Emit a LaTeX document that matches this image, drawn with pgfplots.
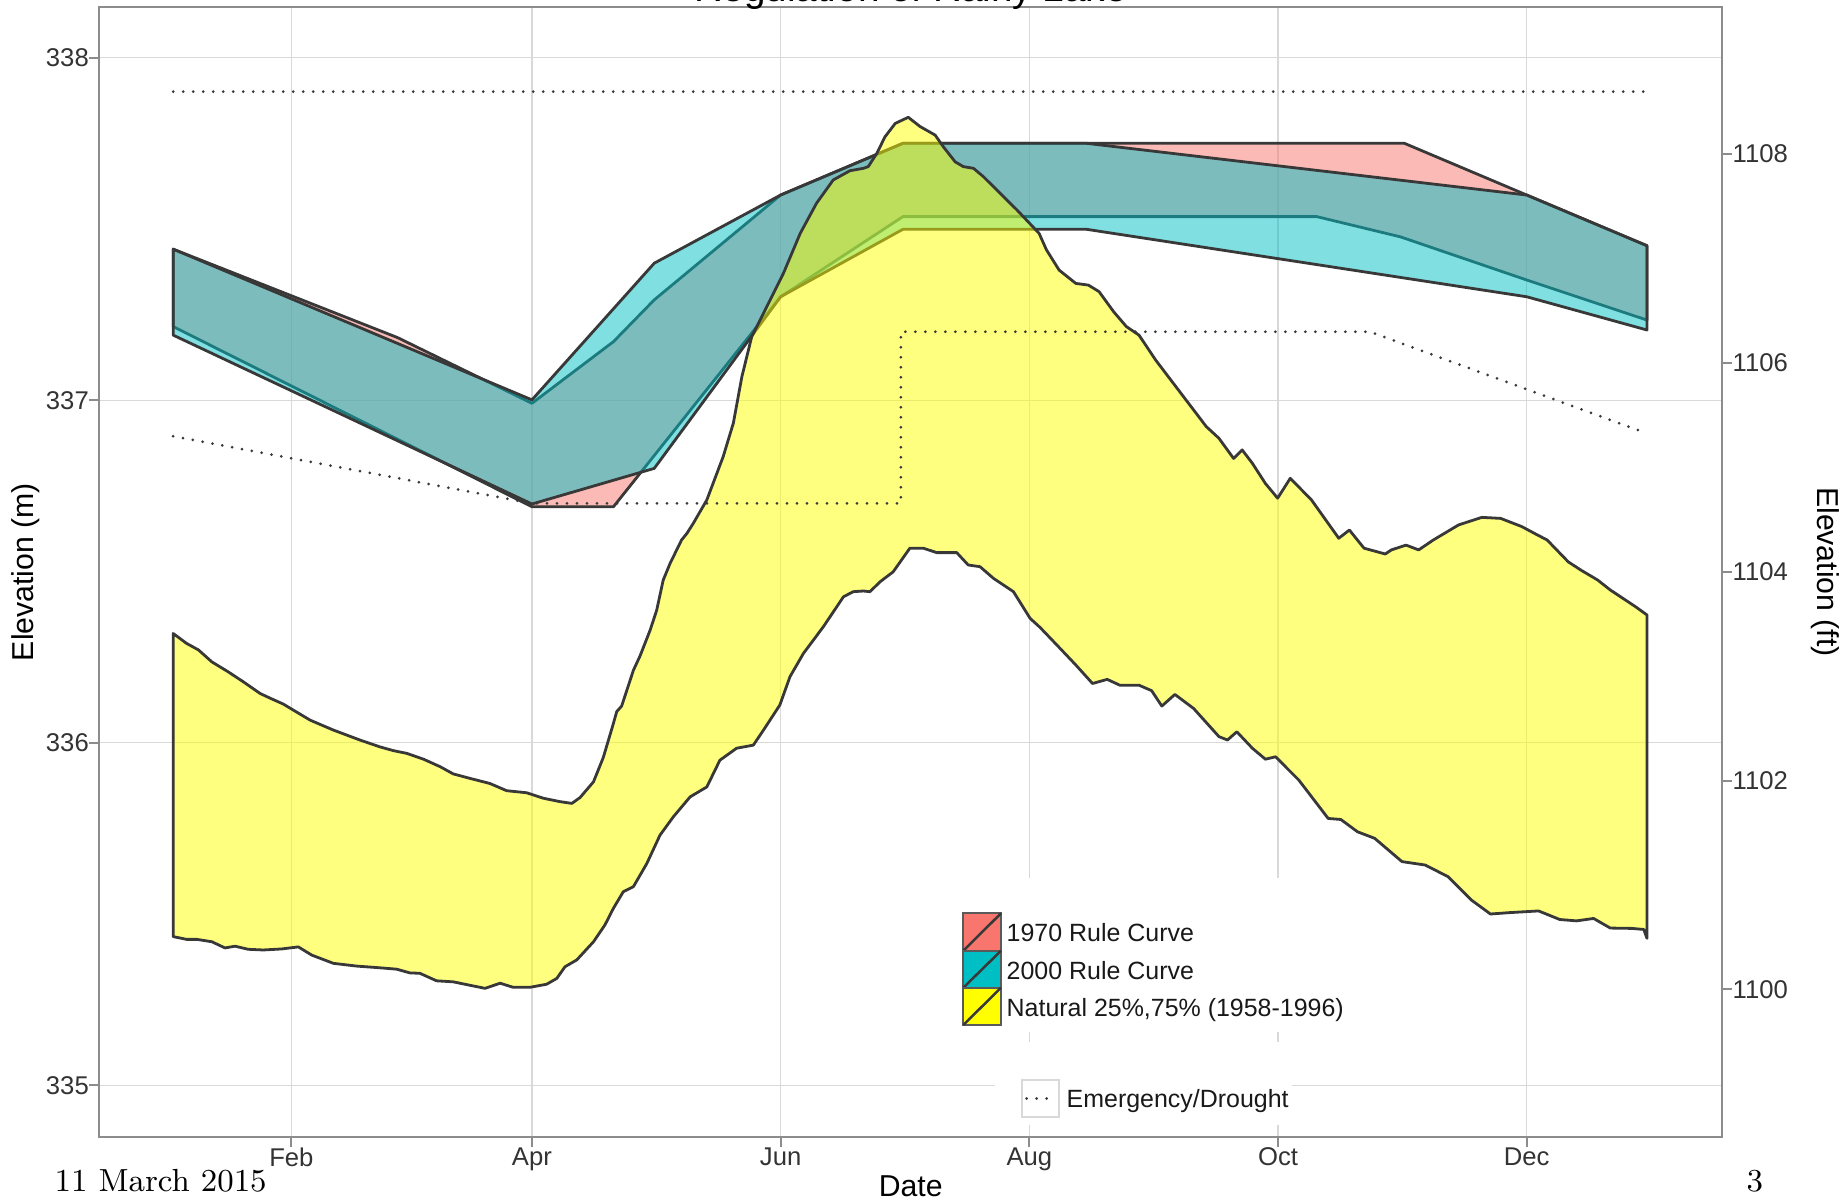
\documentclass[border=0pt]{standalone}
\usepackage{fontspec}
\newfontfamily\arial{Liberation Sans}
\usepackage{pgfplots}
\pgfplotsset{compat=1.18}
\definecolor{rc70}{HTML}{F8766D}
\definecolor{rc00}{HTML}{00BFC4}
\definecolor{nat}{HTML}{FFFF00}
\definecolor{edge}{HTML}{383838}
\definecolor{gridc}{HTML}{D9D9D9}
\definecolor{framec}{HTML}{8C8C8C}
\definecolor{tickc}{HTML}{8C8C8C}
\definecolor{labc}{HTML}{333333}
\definecolor{keyb}{HTML}{5A5A5A}
\begin{document}
\begin{tikzpicture}
\pgfplotsset{
  base/.style={
    scale only axis, width=162.25mm, height=113mm,
    at={(9.95mm,6.3mm)}, anchor=south west,
    xmin=-15.07, xmax=382.9,
    tick align=outside, major tick length=1mm,
    tick style={draw=tickc, line width=0.2mm},
    every tick label/.append style={font=\arial\fontsize{7.3}{8.5}\selectfont, text=labc, inner sep=0pt},
    /pgf/number format/assume math mode=true,
    /pgf/number format/1000 sep={},
    axis line style={draw=framec, line width=0.2mm},
  }
}
\begin{axis}[base,
  ymin=334.849, ymax=338.148,
  xtick={32,91,152,213,274,335},
  xticklabels={Feb,Apr,Jun,Aug,Oct,Dec},
  ytick={335,336,337,338},
  xtick pos=left, ytick pos=left,
  xticklabel style={anchor=north},
  yticklabel style={anchor=east},
  grid=major,
  major grid style={draw=gridc, line width=0.13mm},
  title={Regulation of Rainy Lake},
  every axis title/.style={at={([yshift=0.5mm]rel axis cs:0.5,1)}, anchor=base, font=\arial\fontsize{11}{13}\selectfont},
  xlabel={Date},
  every axis x label/.style={at={([yshift=-5.9mm]rel axis cs:0.5,0)}, anchor=base, font=\arial\fontsize{8.6}{10}\selectfont},
  ylabel={Elevation (m)},
  every axis y label/.style={at={([xshift=-7.35mm]rel axis cs:0,0.5)}, rotate=90, anchor=center, font=\arial\fontsize{8.6}{10}\selectfont},
]
% 1970 rule curve
\addplot[draw=edge, line width=0.28mm, line join=round, fill=rc70, fill opacity=0.5] coordinates {
(3,337.441) (58,337.183) (91,336.991) (111,337.171) (121,337.293) (152,337.599) (182,337.750) (305,337.750) (335,337.599) (364.5,337.451)
(364.5,337.234) (335,337.351) (304,337.477) (283.5,337.536) (182,337.536) (152,337.302) (111,336.689) (91,336.689) (3,337.215)
} -- cycle;
% 2000 rule curve
\addplot[draw=edge, line width=0.28mm, line join=round, fill=rc00, fill opacity=0.5] coordinates {
(3,337.441) (91,337.001) (121,337.400) (152,337.599) (182,337.750) (227,337.750) (335,337.599) (364.5,337.451)
(364.5,337.205) (335,337.302) (227,337.499) (182,337.499) (152,337.302) (121,336.801) (91,336.697) (3,337.190)
} -- cycle;
% Natural 25%-75%
\addplot[draw=edge, line width=0.28mm, line join=round, fill=nat, fill opacity=0.5] coordinates {
(3.0,336.319) (6.3,336.290) (9.2,336.271) (12.5,336.236) (16.5,336.207) (20.2,336.178) (24.3,336.144) (26.8,336.130)
(30.0,336.113) (32.1,336.098) (36.6,336.066) (42.3,336.037) (48.8,336.008) (53.7,335.988) (57.0,335.977) (60.3,335.969)
(64.4,335.952) (68.5,335.930) (71.7,335.909) (75.8,335.896) (80.7,335.881) (84.8,335.860) (89.7,335.854) (93.8,335.838)
(97.9,335.828) (100.8,335.823) (102.8,335.840) (106.1,335.886) (108.5,335.957) (110.8,336.049) (111.8,336.091) (113.0,336.107)
(114.3,336.154) (115.9,336.212) (117.5,336.253) (120.0,336.329) (121.6,336.387) (123.2,336.475) (124.9,336.524) (127.7,336.592)
(129.0,336.611) (130.6,336.641) (133.9,336.709) (137.9,336.835) (140.4,336.933) (142.5,337.069) (144.9,337.185) (148.6,337.273)
(152.7,337.371) (156.8,337.487) (160.8,337.575) (164.9,337.643) (169.0,337.670) (172.3,337.677) (173.5,337.682) (175.6,337.721)
(177.6,337.769) (180.1,337.808) (183.3,337.826) (186.2,337.799) (189.9,337.774) (191.9,337.740) (194.8,337.696) (196.8,337.682)
(199.3,337.677) (201.7,337.653) (205.0,337.614) (208.3,337.575) (210.0,337.555) (215.4,337.487) (217.2,337.439) (220.3,337.380)
(224.4,337.341) (227.5,337.336) (230.1,337.317) (233.7,337.258) (236.8,337.215) (239.9,337.190) (244.0,337.117) (250.2,337.020)
(256.4,336.923) (259.5,336.889) (263.1,336.830) (265.2,336.855) (267.7,336.816) (270.9,336.757) (273.9,336.714) (277.0,336.772)
(282.2,336.709) (288.9,336.597) (291.5,336.621) (295.1,336.568) (300.3,336.551) (301.8,336.563) (305.4,336.577) (308.5,336.563)
(312.1,336.592) (318.3,336.636) (324.0,336.658) (328.6,336.655) (333.8,336.631) (337.4,336.608) (340.0,336.592) (345.2,336.528)
(348.3,336.504) (352.4,336.475) (355.5,336.446) (361.7,336.397) (364.5,336.373)
(364.5,335.429) (363.7,335.455) (360.7,335.458) (355.5,335.459) (351.4,335.487) (347.2,335.480) (343.1,335.484) (337.9,335.509)
(330.7,335.504) (326.1,335.500) (321.4,335.541) (315.7,335.609) (310.1,335.643) (304.4,335.653) (297.7,335.721) (293.5,335.740)
(289.4,335.776) (286.3,335.779) (279.1,335.891) (273.4,335.959) (270.9,335.952) (267.7,335.984) (263.9,336.032) (261.6,336.008)
(259.5,336.018) (253.3,336.100) (248.7,336.141) (245.5,336.107) (243.0,336.152) (239.9,336.168) (235.2,336.168) (232.1,336.185)
(228.5,336.173) (224.4,336.227) (220.5,336.276) (215.6,336.337) (213.2,336.363) (209.1,336.441) (204.2,336.480) (200.9,336.514)
(198.0,336.519) (195.2,336.555) (190.3,336.555) (187.0,336.568) (183.7,336.568) (179.6,336.499) (176.4,336.470) (173.9,336.441)
(172.3,336.443) (169.8,336.441) (167.4,336.426) (162.5,336.339) (157.6,336.261) (154.3,336.193) (151.8,336.110) (147.8,336.037)
(145.3,335.993) (141.2,335.984) (137.1,335.949) (133.9,335.871) (129.8,335.842) (125.7,335.784) (122.4,335.730) (119.2,335.648)
(115.9,335.580) (113.4,335.565) (111.0,335.517) (108.9,335.468) (106.1,335.419) (102.0,335.366) (99.1,335.346) (97.1,335.312)
(94.6,335.295) (90.5,335.286) (86.4,335.286) (83.2,335.298) (79.5,335.283) (76.6,335.290) (71.7,335.302) (67.6,335.305)
(63.5,335.327) (61.1,335.328) (57.8,335.339) (53.7,335.343) (48.0,335.348) (42.3,335.356) (37.0,335.380) (33.7,335.404)
(29.6,335.398) (25.1,335.395) (21.4,335.397) (18.2,335.406) (15.7,335.401) (12.5,335.419) (8.8,335.426) (6.3,335.426) (3.0,335.434)
} -- cycle;
% Emergency / Drought
\addplot[draw=edge, line width=0.3mm, line cap=round, dash pattern=on 0mm off 1mm] coordinates {
(3,337.901) (364.5,337.901)};
\addplot[draw=edge, line width=0.3mm, line cap=round, line join=round, dash pattern=on 0mm off 1mm] coordinates {
(3,336.895) (91,336.699) (181.5,336.699) (181.5,337.200) (296.5,337.200) (364.5,336.903)};
\end{axis}
\begin{axis}[base,
  ymin=1098.586, ymax=1109.409,
  axis y line*=right, axis x line=none,
  ytick={1100,1102,1104,1106,1108},
  yticklabel style={anchor=west},
  ylabel={Elevation (ft)},
  every axis y label/.style={at={([xshift=10.3mm]rel axis cs:1,0.5)}, rotate=-90, anchor=center, font=\arial\fontsize{8.6}{10}\selectfont},
]
\end{axis}
% legend 1
\fill[white] (95.0mm,16.8mm) rectangle (136.0mm,32.2mm);
\filldraw[fill=rc70, draw=keyb, line width=0.18mm] (96.33mm,24.93mm) rectangle (100.1mm,28.67mm);
\draw[edge, line width=0.25mm] (96.33mm,24.93mm) -- (100.1mm,28.67mm);
\filldraw[fill=rc00, draw=keyb, line width=0.18mm] (96.33mm,21.23mm) rectangle (100.1mm,24.93mm);
\draw[edge, line width=0.25mm] (96.33mm,21.23mm) -- (100.1mm,24.93mm);
\filldraw[fill=nat, draw=keyb, line width=0.18mm] (96.33mm,17.5mm) rectangle (100.1mm,21.23mm);
\draw[edge, line width=0.25mm] (96.33mm,17.5mm) -- (100.1mm,21.23mm);
\begin{scope}[every node/.style={anchor=base west, inner sep=0pt, font=\arial\fontsize{7.1}{8.5}\selectfont, text=black!90}]
\node at (100.6mm,25.83mm) {1970 Rule Curve};
\node at (100.6mm,22.1mm) {2000 Rule Curve};
\node at (100.6mm,18.37mm) {Natural 25\%,75\% (1958-1996)};
\end{scope}
% legend 2
\fill[white] (99.5mm,7.5mm) rectangle (129.2mm,15.8mm);
\draw[draw=gridc, line width=0.2mm, fill=white] (102.2mm,8.3mm) rectangle (105.9mm,12.0mm);
\draw[edge, line width=0.3mm, line cap=round, dash pattern=on 0mm off 1mm] (102.65mm,10.15mm) -- (105.5mm,10.15mm);
\node[anchor=base west, inner sep=0pt, font=\arial\fontsize{7.1}{8.5}\selectfont, text=black!90] at (106.6mm,9.23mm) {Emergency/Drought};
% footer
\node[anchor=base west, inner sep=0pt, font=\fontsize{9.1}{11}\selectfont] at (5.4mm,0.85mm) {11 March 2015};
\node[anchor=base west, inner sep=0pt, font=\fontsize{9.1}{11}\selectfont] at (174.6mm,0.85mm) {3};
\pgfresetboundingbox
\path[use as bounding box] (0,0) rectangle (184.7mm,120mm);
\end{tikzpicture}
\end{document}
